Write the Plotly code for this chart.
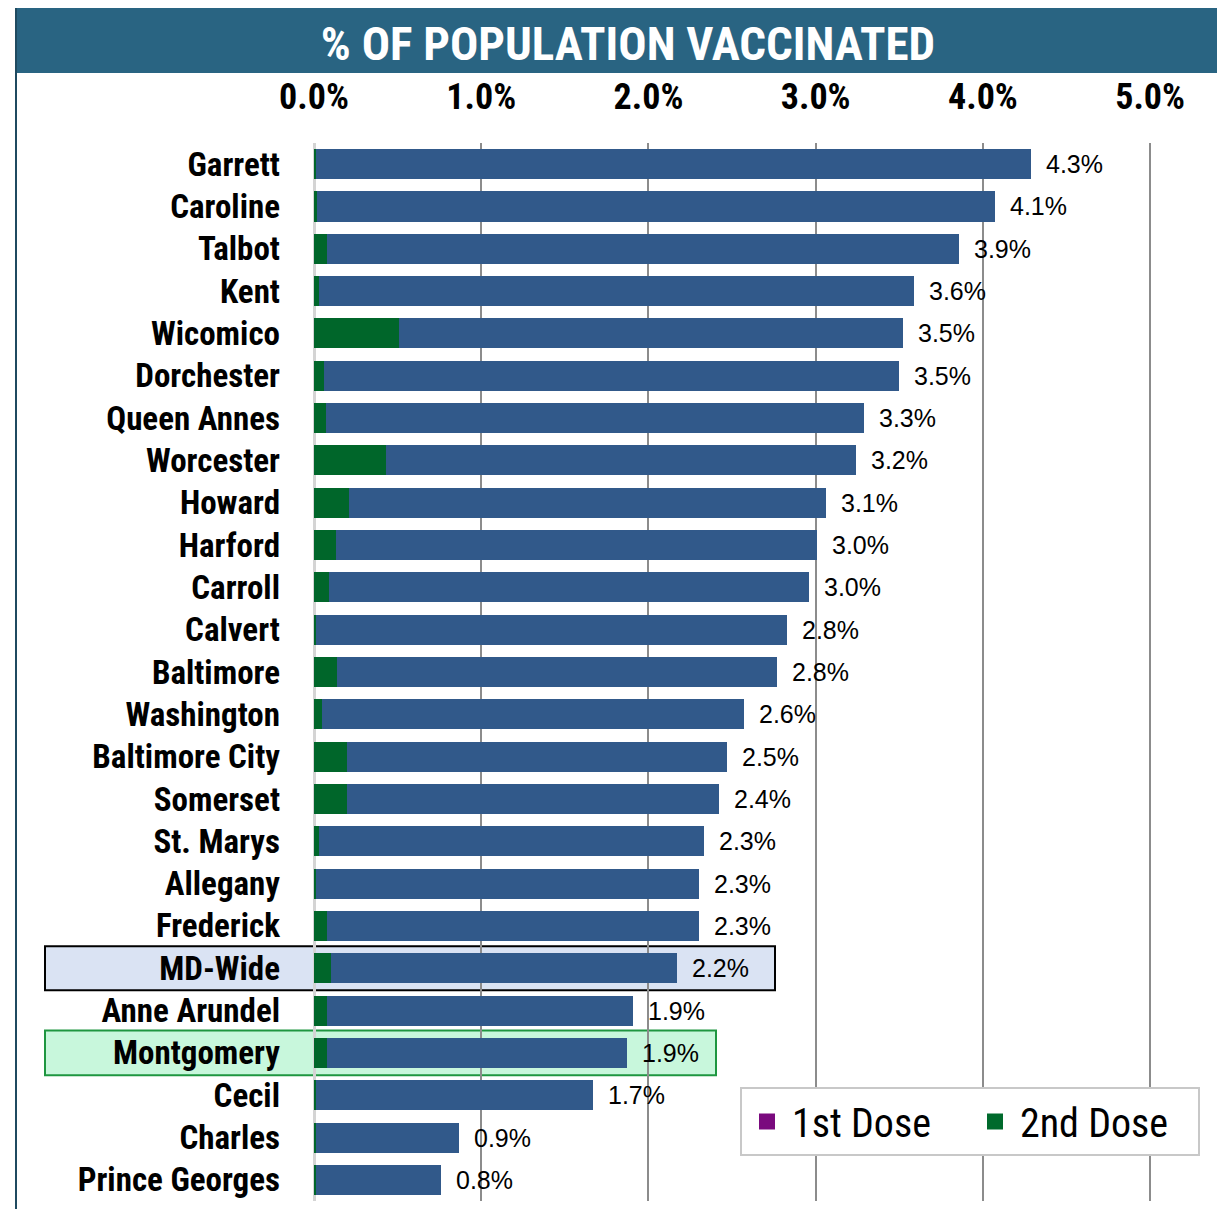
import plotly.graph_objects as go

counties = ["Garrett", "Caroline", "Talbot", "Kent", "Wicomico", "Dorchester",
            "Queen Annes", "Worcester", "Howard", "Harford", "Carroll", "Calvert",
            "Baltimore", "Washington", "Baltimore City", "Somerset", "St. Marys",
            "Allegany", "Frederick", "MD-Wide", "Anne Arundel", "Montgomery",
            "Cecil", "Charles", "Prince Georges"]
second_dose = [0.01, 0.02, 0.08, 0.03, 0.51, 0.06, 0.07, 0.43, 0.21, 0.13, 0.09, 0.01,
               0.14, 0.05, 0.20, 0.20, 0.03, 0.01, 0.08, 0.10, 0.08, 0.08, 0.01, 0.01, 0.01]
first_dose = [4.28, 4.05, 3.78, 3.56, 3.01, 3.44, 3.22, 2.81, 2.85, 2.88, 2.87, 2.82,
              2.63, 2.52, 2.27, 2.22, 2.30, 2.29, 2.22, 2.07, 1.83, 1.79, 1.66, 0.86, 0.75]
x_ticks = [0, 1, 2, 3, 4, 5]
x_tick_labels = ["0.0%", "1.0%", "2.0%", "3.0%", "4.0%", "5.0%"]
totals = [a + b for a, b in zip(first_dose, second_dose)]

COND = "Roboto Condensed, Open Sans Condensed, DejaVu Sans Condensed, sans-serif"

# page offset (body margin) and figure geometry
OFF = 8
FW, FH = 1217, 1201
L, T, R, B = 306, 135, 8, 8
W = FW - L - R
H = FH - T - B

def px(pagex):
    return (pagex - OFF - L) / W

def py(pagey):
    return (FH - B - (pagey - OFF)) / H

fig = go.Figure()
fig.add_trace(go.Bar(y=counties, x=second_dose, orientation="h", name="2nd Dose",
                     marker=dict(color="#00662a", line=dict(width=0)), showlegend=False))
fig.add_trace(go.Bar(y=counties, x=first_dose, orientation="h", name="1st Dose",
                     marker=dict(color="#31598a", line=dict(width=0)), showlegend=False))
# legend entries
fig.add_trace(go.Scatter(x=[None], y=[None], mode="markers", name="1st Dose",
                         marker=dict(symbol="square", size=16, color="#7a0a7e")))
fig.add_trace(go.Scatter(x=[None], y=[None], mode="markers", name="2nd Dose",
                         marker=dict(symbol="square", size=16, color="#006a2c")))

for c, t in zip(counties, totals):
    fig.add_annotation(x=t, y=c, text=f"{t:.1f}%", showarrow=False, xanchor="left",
                       xshift=13, font=dict(family="Liberation Sans, Arial, sans-serif",
                                            size=25, color="black"))

shapes = []
# title banner
shapes.append(dict(type="rect", xref="paper", yref="paper", x0=px(15), x1=px(1225),
                   y0=py(73), y1=py(8), fillcolor="#296482", line=dict(width=0), layer="above"))
# left border line
shapes.append(dict(type="line", xref="paper", yref="paper", x0=px(16), x1=px(16),
                   y0=py(1209), y1=py(8), line=dict(color="#1f4a60", width=2)))
# highlight boxes
i_md = counties.index("MD-Wide")
i_mo = counties.index("Montgomery")
shapes.append(dict(type="rect", xref="paper", yref="y", x0=px(45), x1=px(775),
                   y0=i_md - 0.52, y1=i_md + 0.52, fillcolor="#dae3f3",
                   line=dict(color="black", width=2), layer="below"))
shapes.append(dict(type="rect", xref="paper", yref="y", x0=px(45), x1=px(716),
                   y0=i_mo - 0.53, y1=i_mo + 0.53, fillcolor="#c8f7dc",
                   line=dict(color="#1e9640", width=2), layer="below"))

fig.update_layout(
    width=FW, height=FH,
    margin=dict(l=L, r=R, t=T, b=B),
    paper_bgcolor="white", plot_bgcolor="white",
    barmode="stack", bargap=0.29,
    shapes=shapes,
    title=dict(text="% OF POPULATION VACCINATED", x=(628 - OFF) / FW, xanchor="center",
               y=1 - (44 - OFF) / FH, yanchor="middle",
               font=dict(family=COND, size=47, color="white", weight="bold")),
    legend=dict(orientation="h", x=px(740), y=py(1087), xanchor="left", yanchor="top",
                bgcolor="white", bordercolor="#c8c8c8", borderwidth=2,
                font=dict(family=COND, size=40, color="black"),
                itemsizing="trace", traceorder="normal", itemwidth=40, entrywidth=173),
    xaxis=dict(range=[0, 5.4], side="top", tickvals=x_ticks, ticktext=x_tick_labels,
               showgrid=True, gridcolor="#8c8c8c", gridwidth=2,
               zeroline=True, zerolinecolor="#d4d4d4", zerolinewidth=3,
               ticks="", ticklabelstandoff=26,
               tickfont=dict(family=COND, size=36, color="black", weight="bold")),
    yaxis=dict(categoryorder="array", categoryarray=counties, range=[24.5, -0.5],
               showgrid=False, zeroline=False, ticks="", ticklabelstandoff=33,
               tickfont=dict(family=COND, size=33, color="black", weight="bold")),
)

fig.write_html("out.html")
